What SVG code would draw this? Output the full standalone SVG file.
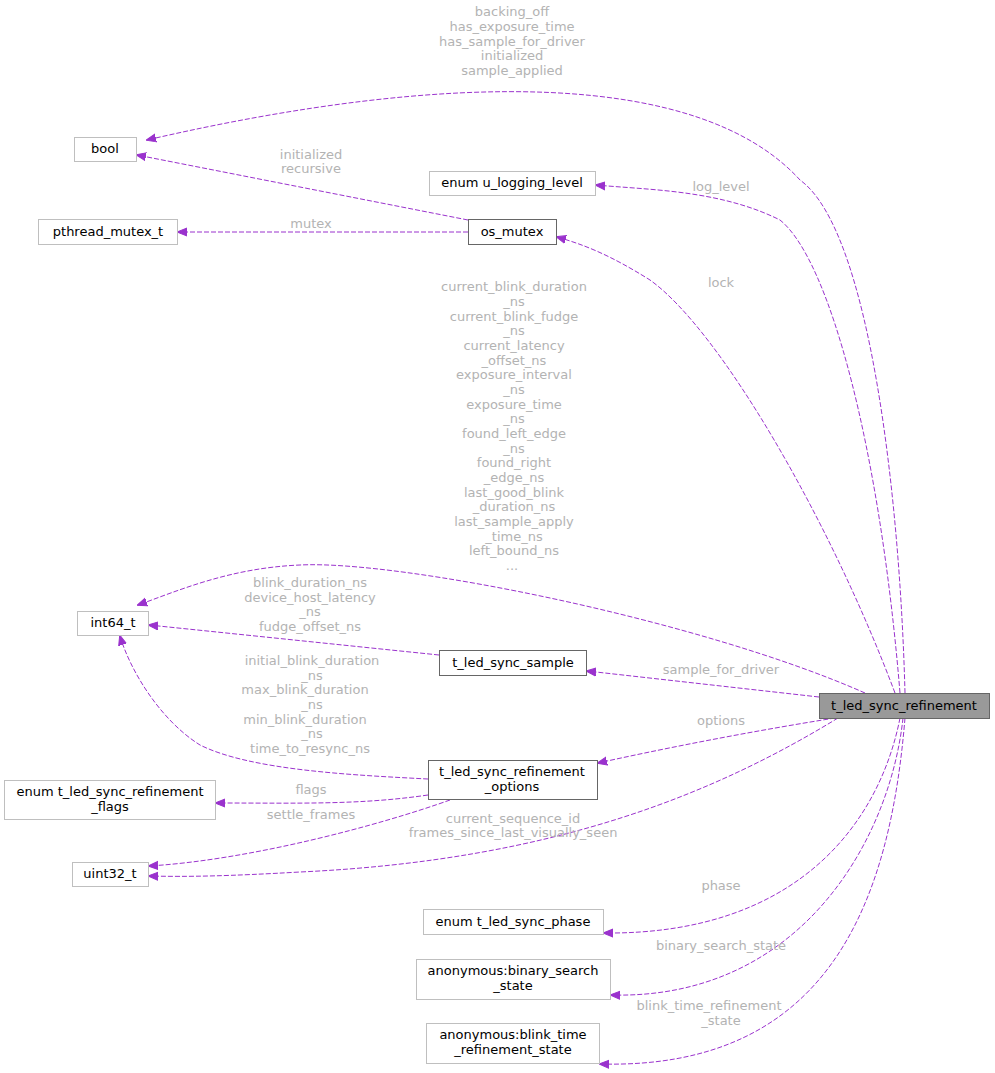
<svg xmlns="http://www.w3.org/2000/svg" width="995" height="1073" viewBox="0 0 995 1073">
<style>
text{font-family:"DejaVu Sans",sans-serif;font-size:13px}
.n rect{fill:#fff;stroke:#bfbfbf;stroke-width:1}
.n.d rect{stroke:#666}
.n text{fill:#000;text-anchor:middle}
.e path{fill:none;stroke:#9a32cd;stroke-width:1;stroke-dasharray:5,2;marker-end:url(#a)}
.l text{fill:#b3b3b3;text-anchor:middle}
</style>
<defs><marker id="a" viewBox="0 0 10 10" refX="9" refY="5" markerWidth="10" markerHeight="10" markerUnits="userSpaceOnUse" orient="auto"><path d="M0,1 L10,5 L0,9 z" fill="#9a32cd" stroke="#9a32cd"/></marker></defs>
<rect width="995" height="1073" fill="#fff"/>
<g class="e" id="edges">
<path d="M905,693 C900,500 870,230 800,180 C700,70 450,70 147,140"/>
<path d="M468,220 L137,155"/>
<path d="M468,232 L178,232"/>
<path d="M900,693 C880,450 830,260 780,220 C720,190 650,190 596,185"/>
<path d="M895,693 C830,520 720,330 650,280 C610,255 585,245 557,237"/>
<path d="M865,693 C700,620 400,560 300,565 C230,568 180,590 138,605"/>
<path d="M439,655 L149,625"/>
<path d="M819,697 L587,671"/>
<path d="M428,779 C350,775 250,770 200,745 C160,720 130,670 120,636"/>
<path d="M835,718 C760,730 680,745 598,763"/>
<path d="M428,795 C360,805 300,803 216,803"/>
<path d="M450,800 C380,825 250,860 149,866"/>
<path d="M838,718 C720,790 560,860 300,872 C230,876 190,877 149,876"/>
<path d="M900,718 C880,820 800,935 604,933"/>
<path d="M903,718 C890,840 800,1000 611,995"/>
<path d="M905,718 C890,900 830,1070 600,1064"/>
</g>
<g class="l" id="labels">
<text x="512" y="16">backing_off</text>
<text x="512" y="31">has_exposure_time</text>
<text x="512" y="46">has_sample_for_driver</text>
<text x="512" y="60">initialized</text>
<text x="512" y="75">sample_applied</text>
<text x="311" y="159">initialized</text>
<text x="311" y="173">recursive</text>
<text x="311" y="228">mutex</text>
<text x="721" y="191">log_level</text>
<text x="721" y="287">lock</text>
<text x="514" y="291">current_blink_duration</text>
<text x="514" y="306">_ns</text>
<text x="514" y="321">current_blink_fudge</text>
<text x="514" y="335">_ns</text>
<text x="514" y="350">current_latency</text>
<text x="514" y="365">_offset_ns</text>
<text x="514" y="379">exposure_interval</text>
<text x="514" y="394">_ns</text>
<text x="514" y="409">exposure_time</text>
<text x="514" y="423">_ns</text>
<text x="514" y="438">found_left_edge</text>
<text x="514" y="453">_ns</text>
<text x="514" y="467">found_right</text>
<text x="514" y="482">_edge_ns</text>
<text x="514" y="497">last_good_blink</text>
<text x="514" y="511">_duration_ns</text>
<text x="514" y="526">last_sample_apply</text>
<text x="514" y="541">_time_ns</text>
<text x="514" y="555">left_bound_ns</text>
<text x="512" y="570">...</text>
<text x="310" y="587">blink_duration_ns</text>
<text x="310" y="602">device_host_latency</text>
<text x="310" y="616">_ns</text>
<text x="310" y="631">fudge_offset_ns</text>
<text x="721" y="674">sample_for_driver</text>
<text x="312" y="665">initial_blink_duration</text>
<text x="312" y="680">_ns</text>
<text x="305" y="694">max_blink_duration</text>
<text x="312" y="709">_ns</text>
<text x="305" y="724">min_blink_duration</text>
<text x="312" y="738">_ns</text>
<text x="310" y="753">time_to_resync_ns</text>
<text x="721" y="725">options</text>
<text x="311" y="794">flags</text>
<text x="311" y="819">settle_frames</text>
<text x="513" y="823">current_sequence_id</text>
<text x="513" y="837">frames_since_last_visually_seen</text>
<text x="721" y="890">phase</text>
<text x="721" y="950">binary_search_state</text>
<text x="709" y="1010">blink_time_refinement</text>
<text x="721" y="1025">_state</text>
</g>
<g class="n" id="bool"><rect x="74.5" y="137.5" width="62" height="24"/><text x="105" y="153">bool</text></g>
<g class="n" id="ulog"><rect x="429.5" y="171.5" width="166" height="24"/><text x="512" y="187">enum u_logging_level</text></g>
<g class="n" id="pthread"><rect x="38.5" y="219.5" width="139" height="25"/><text x="108" y="236">pthread_mutex_t</text></g>
<g class="n d" id="os_mutex"><rect x="468.5" y="219.5" width="88" height="25"/><text x="512" y="236">os_mutex</text></g>
<g class="n" id="int64"><rect x="77.5" y="611.5" width="71" height="24"/><text x="113" y="627">int64_t</text></g>
<g class="n d" id="sample"><rect x="439.5" y="650.5" width="147" height="25"/><text x="513" y="667">t_led_sync_sample</text></g>
<g class="n d" id="refinement"><rect x="819.5" y="693.5" width="170" height="25" style="fill:#999"/><text x="904" y="710">t_led_sync_refinement</text></g>
<g class="n d" id="options"><rect x="428.5" y="760.5" width="169" height="39"/><text x="512" y="776">t_led_sync_refinement</text><text x="512" y="791">_options</text></g>
<g class="n" id="flags"><rect x="4.5" y="780.5" width="211" height="39"/><text x="110" y="796">enum t_led_sync_refinement</text><text x="110" y="811">_flags</text></g>
<g class="n" id="uint32"><rect x="72.5" y="862.5" width="76" height="24"/><text x="110" y="878">uint32_t</text></g>
<g class="n" id="phase"><rect x="423.5" y="909.5" width="180" height="25"/><text x="513" y="926">enum t_led_sync_phase</text></g>
<g class="n" id="binary"><rect x="416.5" y="959.5" width="194" height="40"/><text x="513" y="975">anonymous:binary_search</text><text x="513" y="990">_state</text></g>
<g class="n" id="blink"><rect x="426.5" y="1023.5" width="173" height="40"/><text x="513" y="1039">anonymous:blink_time</text><text x="513" y="1054">_refinement_state</text></g>
</svg>
